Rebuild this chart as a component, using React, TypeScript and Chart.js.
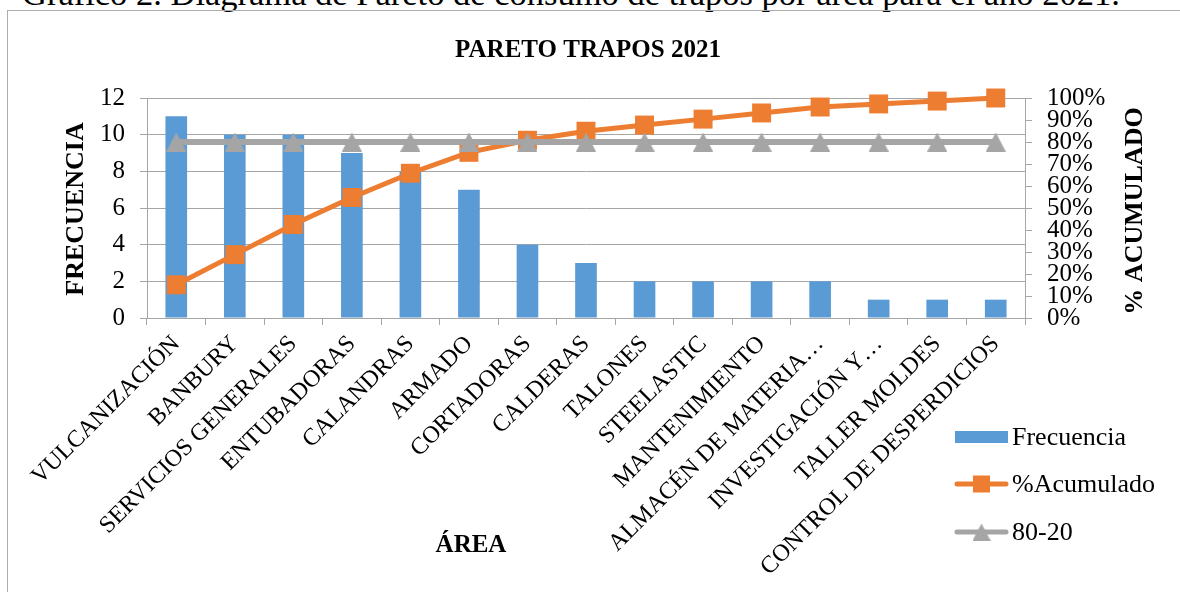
import React, { useEffect, useRef } from "react";
import { Chart, registerables } from "chart.js";

Chart.register(...registerables);

const SERIF = '"Liberation Serif", "Times New Roman", Times, serif';

const categories = [
  "VULCANIZACIÓN",
  "BANBURY",
  "SERVICIOS GENERALES",
  "ENTUBADORAS",
  "CALANDRAS",
  "ARMADO",
  "CORTADORAS",
  "CALDERAS",
  "TALONES",
  "STEELASTIC",
  "MANTENIMIENTO",
  "ALMACÉN DE MATERIA…",
  "INVESTIGACIÓN Y…",
  "TALLER MOLDES",
  "CONTROL DE DESPERDICIOS",
];

const frecuencia = [11, 10, 10, 9, 8, 7, 4, 3, 2, 2, 2, 2, 1, 1, 1];
const acumulado = [15.1, 28.8, 42.5, 54.8, 65.8, 75.3, 80.8, 84.9, 87.7, 90.4, 93.2, 95.9, 97.3, 98.6, 100];
const linea8020 = [80, 80, 80, 80, 80, 80, 80, 80, 80, 80, 80, 80, 80, 80, 80];

const chartTitle = "PARETO TRAPOS 2021";
const yTitle = "FRECUENCIA";
const y1Title = "% ACUMULADO";
const xTitle = "ÁREA";
const legendLabels = ["Frecuencia", "%Acumulado", "80-20"];
const caption = "Gráfico 2. Diagrama de Pareto de consumo de trapos por área para el año 2021.";

const BLUE = "#5B9BD5";
const ORANGE = "#ED7D31";
const GRAY = "#A5A5A5";
const GRID = "#A6A6A6";

function makeTriangle(w: number, h: number) {
  const c = document.createElement("canvas");
  c.width = w;
  c.height = h;
  const g = c.getContext("2d")!;
  g.fillStyle = GRAY;
  g.beginPath();
  g.moveTo(0, h);
  g.lineTo(w / 2, 0);
  g.lineTo(w, h);
  g.closePath();
  g.fill();
  return c;
}

export default function App() {
  const ref = useRef<HTMLCanvasElement>(null);

  useEffect(() => {
    const canvas = ref.current;
    if (!canvas) return;
    const tri = makeTriangle(20, 19);
    const triLegend = makeTriangle(18, 17);

    const overlay = {
      id: "overlay",
      afterDraw(chart: any) {
        const ctx = chart.ctx as CanvasRenderingContext2D;
        ctx.save();
        ctx.fillStyle = "#000";
        ctx.textAlign = "center";
        ctx.textBaseline = "middle";
        ctx.font = `bold 25px ${SERIF}`;
        ctx.fillText(chartTitle, 588, 51);

        ctx.save();
        ctx.translate(76, 209);
        ctx.rotate(-Math.PI / 2);
        ctx.font = `bold 26px ${SERIF}`;
        ctx.fillText(yTitle, 0, 0);
        ctx.restore();

        ctx.save();
        ctx.translate(1135, 211);
        ctx.rotate(-Math.PI / 2);
        ctx.font = `bold 26px ${SERIF}`;
        ctx.fillText(y1Title, 0, 0);
        ctx.restore();

        ctx.font = `bold 25px ${SERIF}`;
        ctx.fillText(xTitle, 471, 546);

        // legend
        const lx0 = 955;
        const lx1 = 1008;
        const lcx = (lx0 + lx1) / 2;
        const rows = [437, 484, 532];
        ctx.fillStyle = BLUE;
        ctx.fillRect(lx0, rows[0] - 6, lx1 - lx0, 12);

        ctx.lineCap = "round";
        ctx.strokeStyle = ORANGE;
        ctx.lineWidth = 5;
        ctx.beginPath();
        ctx.moveTo(lx0 + 2, rows[1]);
        ctx.lineTo(lx1 - 2, rows[1]);
        ctx.stroke();
        ctx.fillStyle = ORANGE;
        ctx.fillRect(lcx - 8.5, rows[1] - 8.5, 17, 17);

        ctx.strokeStyle = GRAY;
        ctx.beginPath();
        ctx.moveTo(lx0 + 2, rows[2]);
        ctx.lineTo(lx1 - 2, rows[2]);
        ctx.stroke();
        ctx.drawImage(triLegend, lcx - 9, rows[2] - 8.5);

        ctx.fillStyle = "#000";
        ctx.textAlign = "left";
        ctx.font = `26px ${SERIF}`;
        legendLabels.forEach((t, i) => ctx.fillText(t, 1012, rows[i] + 1));
        ctx.restore();
      },
    };

    const chart = new Chart(canvas, {
      type: "bar",
      data: {
        labels: categories,
        datasets: [
          {
            type: "line",
            label: legendLabels[2],
            data: linea8020,
            yAxisID: "y1",
            borderColor: GRAY,
            backgroundColor: GRAY,
            borderWidth: 6,
            pointStyle: tri as any,
            pointRadius: 10,
            tension: 0,
            clip: false as any,
            order: 0,
          } as any,
          {
            type: "line",
            label: legendLabels[1],
            data: acumulado,
            yAxisID: "y1",
            borderColor: ORANGE,
            backgroundColor: ORANGE,
            borderWidth: 5,
            pointStyle: "rect",
            pointRadius: 13.4,
            pointBorderWidth: 0,
            pointBackgroundColor: ORANGE,
            tension: 0,
            clip: false as any,
            order: 1,
          } as any,
          {
            type: "bar",
            label: legendLabels[0],
            data: frecuencia,
            yAxisID: "y",
            backgroundColor: BLUE,
            categoryPercentage: 1,
            barPercentage: 0.37,
            order: 2,
          },
        ],
      },
      options: {
        responsive: false,
        animation: false,
        devicePixelRatio: 1,
        layout: { padding: { top: 98, left: 0, right: 0, bottom: 0 } },
        plugins: {
          legend: { display: false },
          tooltip: { enabled: false },
          title: { display: false },
        },
        scales: {
          x: {
            offset: true,
            grid: {
              offset: true,
              drawOnChartArea: false,
              drawTicks: true,
              tickLength: 7,
              color: GRID,
            },
            border: { display: true, color: GRID, width: 1 },
            ticks: {
              autoSkip: false,
              maxRotation: 45,
              minRotation: 45,
              padding: 5,
              color: "#000",
              font: { family: SERIF, size: 24 },
            },
            afterFit: (s: any) => {
              s.height = 274;
            },
          },
          y: {
            position: "left",
            min: 0,
            max: 12,
            ticks: {
              stepSize: 2,
              padding: 15,
              color: "#000",
              autoSkip: false,
              font: { family: SERIF, size: 25, lineHeight: 1 },
            },
            grid: { color: GRID, drawTicks: true, tickLength: 7 },
            border: { display: true, color: GRID, width: 1 },
            afterFit: (s: any) => {
              s.width = 147;
            },
          },
          y1: {
            position: "right",
            min: 0,
            max: 100,
            ticks: {
              stepSize: 10,
              padding: 15,
              color: "#000",
              autoSkip: false,
              font: { family: SERIF, size: 25, lineHeight: 1 },
              callback: (v: any) => `${v}%`,
            },
            grid: { drawOnChartArea: false, drawTicks: true, tickLength: 7, color: GRID },
            border: { display: true, color: GRID, width: 1 },
            afterFit: (s: any) => {
              s.width = 155;
            },
          },
        },
      },
      plugins: [overlay],
    });
    return () => chart.destroy();
  }, []);

  return (
    <div
      style={{
        position: "fixed",
        left: 0,
        top: 0,
        width: 1180,
        height: 592,
        overflow: "hidden",
        background: "#fff",
      }}
    >
      <div
        style={{
          position: "absolute",
          left: 22,
          top: -22,
          fontFamily: SERIF,
          fontSize: 34.5,
          lineHeight: "30px",
          whiteSpace: "nowrap",
          color: "#000",
        }}
      >
        {caption}
      </div>
      <div
        style={{
          position: "absolute",
          left: 7,
          top: 10,
          width: 1220,
          height: 620,
          border: "1px solid #ADADAD",
          boxSizing: "border-box",
        }}
      />
      <canvas
        ref={ref}
        width={1180}
        height={592}
        style={{ position: "absolute", left: 0, top: 0, width: 1180, height: 592 }}
      />
    </div>
  );
}
